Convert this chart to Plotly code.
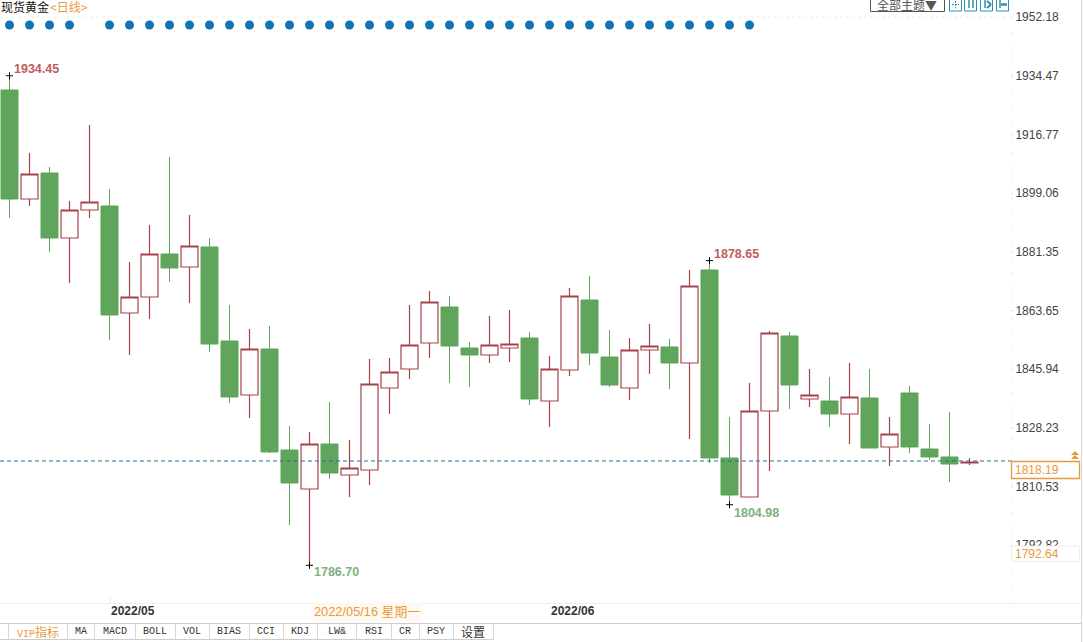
import plotly.graph_objects as go

dates = ["2022-04-25","2022-04-26","2022-04-27","2022-04-28","2022-04-29",
 "2022-05-02","2022-05-03","2022-05-04","2022-05-05","2022-05-06",
 "2022-05-09","2022-05-10","2022-05-11","2022-05-12","2022-05-13",
 "2022-05-16","2022-05-17","2022-05-18","2022-05-19","2022-05-20",
 "2022-05-23","2022-05-24","2022-05-25","2022-05-26","2022-05-27",
 "2022-05-30","2022-05-31","2022-06-01","2022-06-02","2022-06-03",
 "2022-06-06","2022-06-07","2022-06-08","2022-06-09","2022-06-10",
 "2022-06-13","2022-06-14","2022-06-15","2022-06-16","2022-06-17",
 "2022-06-20","2022-06-21","2022-06-22","2022-06-23","2022-06-24",
 "2022-06-27","2022-06-28","2022-06-29","2022-06-30"]
opens = [1930.15,1897.25,1905.10,1885.48,1893.93,1895.14,1862.85,1867.68,1880.65,1876.73,
 1882.77,1854.40,1838.10,1851.98,1821.50,1809.73,1823.31,1813.95,1815.46,1840.21,
 1845.95,1853.79,1864.66,1852.28,1850.17,1852.28,1855.30,1836.29,1845.64,1866.77,
 1849.57,1840.21,1851.68,1852.59,1847.76,1875.82,1819.09,1807.31,1833.27,1855.91,
 1836.89,1836.29,1832.36,1837.19,1822.41,1838.70,1821.80,1819.39,1817.58]
highs = [1934.45,1911.13,1906.91,1896.65,1919.58,1900.27,1878.24,1889.40,1909.93,1892.42,
 1885.48,1865.26,1858.02,1858.92,1828.74,1826.93,1835.99,1824.52,1848.96,1849.27,
 1865.26,1869.49,1867.98,1854.09,1861.94,1863.75,1857.11,1849.87,1870.39,1874.01,
 1857.72,1855.30,1859.53,1855.00,1875.82,1878.65,1831.46,1841.72,1857.41,1857.11,
 1845.95,1843.53,1847.76,1845.95,1831.46,1840.82,1829.35,1832.97,1819.09]
lows = [1891.52,1895.14,1881.26,1871.90,1891.52,1854.70,1850.17,1861.04,1872.20,1865.86,
 1851.08,1835.68,1831.16,1820.59,1798.86,1786.70,1812.75,1807.31,1810.94,1832.36,
 1842.93,1849.27,1841.72,1840.51,1847.76,1848.06,1835.08,1828.44,1843.83,1847.15,
 1840.51,1836.59,1844.44,1839.91,1824.82,1817.58,1804.98,1807.31,1815.16,1833.87,
 1834.48,1828.44,1823.31,1822.10,1816.67,1820.59,1818.48,1811.84,1816.97]
closes = [1897.25,1904.80,1885.48,1893.93,1896.35,1862.24,1867.68,1880.65,1876.43,1883.07,
 1853.49,1837.50,1851.98,1820.90,1811.54,1823.31,1814.56,1816.07,1841.42,1845.04,
 1853.19,1866.17,1852.89,1850.17,1853.19,1853.49,1836.89,1845.95,1867.98,1850.77,
 1841.12,1851.68,1852.89,1847.76,1871.00,1819.09,1807.92,1833.27,1856.81,1841.12,
 1838.10,1832.36,1837.50,1822.10,1826.33,1822.41,1819.39,1817.27,1817.88]

y_ticks = [1952.18,1934.47,1916.77,1899.06,1881.35,1863.65,1845.94,1828.23,1810.53,1792.82]
y_tick_labels = ["1952.18","1934.47","1916.77","1899.06","1881.35","1863.65","1845.94","1828.23","1810.53","1792.82"]

signal_dates = dates[:4] + dates[5:38]
signal_level = [1949.76] * len(signal_dates)

extreme_dates = ["2022-04-25","2022-06-13","2022-05-16","2022-06-14"]
extreme_values = [1934.45,1878.65,1786.70,1804.98]
extreme_labels = ["1934.45","1878.65","1786.70","1804.98"]

last_price = 1818.19
cursor_price = "1792.64"
month_ticks = ["2022-05-02","2022-06-01"]
month_labels = ["2022/05","2022/06"]
cursor_date = "2022-05-16"
cursor_label = "2022/05/16 星期一"
tabs = ["VIP指标","MA","MACD","BOLL","VOL","BIAS","CCI","KDJ","LW&","RSI","CR","PSY","设置"]

W, H = 1083, 642
PLOT_R, PLOT_B = 1010, 603
RED, GREEN = "#a5434a", "#5fa55c"
ORANGE = "#e79a3c"
LAB_RED, LAB_GREEN = "#c25c5c", "#7fb07f"
X = lambda p: p / W
Y = lambda p: 1 - p / H

fig = go.Figure()
fig.add_trace(go.Scatter(x=signal_dates, y=signal_level, mode="markers",
    marker=dict(color="#1272b8", size=9), hoverinfo="skip", showlegend=False))
fig.add_trace(go.Candlestick(x=dates, open=opens, high=highs, low=lows, close=closes,
    whiskerwidth=0, showlegend=False, hoverinfo="skip",
    increasing=dict(line=dict(color=RED, width=1.2), fillcolor="white"),
    decreasing=dict(line=dict(color=GREEN, width=1), fillcolor=GREEN)))
fig.add_trace(go.Scatter(x=extreme_dates, y=extreme_values, mode="markers",
    marker=dict(symbol="cross-thin", size=5, line=dict(color="black", width=1)),
    hoverinfo="skip", showlegend=False))

ann = []
def text(x, y, t, color="#333", size=12, font="Liberation Sans", anchor="left", **kw):
    ann.append(dict(x=X(x), y=Y(y), xref="paper", yref="paper", text=t, showarrow=False,
        xanchor=anchor, yanchor="middle", font=dict(color=color, size=size, family=font),
        borderpad=0, **kw))

cjk = "Noto Sans CJK SC"
# extreme labels
for d, v, lab, col, dy in zip(extreme_dates, extreme_values, extreme_labels,
        [LAB_RED, LAB_RED, LAB_GREEN, LAB_GREEN], [7, 7, -7, -8]):
    ann.append(dict(x=d, y=v, xref="x", yref="y", text=f"<b>{lab}</b>", showarrow=False,
        xanchor="left", yanchor="middle", xshift=2, yshift=dy,
        font=dict(color=col, size=12.5, family="Liberation Sans")))
# title
text(0, 6, "现货黄金", color="#111", size=12, font=cjk)
text(49, 6, "&lt;日线&gt;", color=ORANGE, size=12, font=cjk)
# theme button
text(907, 5, "全部主题▼", color="#555", size=12, font=cjk, anchor="center")
# month labels
for d, lab in zip(month_ticks, month_labels):
    ann.append(dict(x=d, y=Y(611), xref="x", yref="paper", text=f"<b>{lab}</b>", showarrow=False,
        xanchor="left", yanchor="middle", xshift=-1,
        font=dict(color="#333", size=12, family="Liberation Sans")))
ann.append(dict(x=cursor_date, y=Y(611), xref="x", yref="paper", text=cursor_label, showarrow=False,
    xanchor="left", yanchor="middle", xshift=2, bgcolor="#fff9f1", borderpad=1,
    font=dict(color=ORANGE, size=12.8, family="Liberation Sans, " + cjk)))
# price labels
text(1014, 469.5, f"{last_price:.2f}", color=ORANGE)
text(1014, 553.5, cursor_price, color=ORANGE)
# toolbar tabs
edges = [8, 67, 94, 135, 175, 209, 249, 283, 317, 356, 391, 419, 453, 493]
for i, t in enumerate(tabs):
    cx = (edges[i] + edges[i + 1]) / 2
    col = ORANGE if i == 0 else "#333"
    f = cjk if i == 12 else "Liberation Mono"
    if i == 0:
        t = "VIP<span style='font-family:Noto Sans CJK SC;font-size:12px'>指标</span>"
    text(cx, 631, t, color=col, size=12 if i == 12 else 10, font=f, anchor="center")

shapes = []
def line(x0, y0, x1, y1, color, width=1, dash="solid", layer="above"):
    shapes.append(dict(type="line", xref="paper", yref="paper", x0=X(x0), x1=X(x1), y0=Y(y0), y1=Y(y1),
        line=dict(color=color, width=width, dash=dash), layer=layer))
def rect(x0, y0, x1, y1, color, fill=None, width=1):
    shapes.append(dict(type="rect", xref="paper", yref="paper", x0=X(x0), x1=X(x1), y0=Y(y0), y1=Y(y1),
        line=dict(color=color, width=width), fillcolor=fill or "rgba(0,0,0,0)", layer="above"))

shapes.append(dict(type="line", xref="paper", yref="y", x0=0, x1=X(1012), y0=last_price, y1=last_price,
    line=dict(color="#2b6f96", width=1, dash="4px,3px"), layer="above"))
line(0, 17, 1010, 17, "#eeeeee", dash="3px,3px", layer="below")
line(1012, 17, 1012, 603, "#eeeeee", dash="3px,12px", layer="below")
line(0, 603.5, 1081, 603.5, "#eeeeee", layer="below")
line(110.5, 596, 110.5, 603, "#eeeeee", layer="below")
line(1081.5, 0, 1081.5, 642, "#d4d4d4", layer="below")
line(0, 623.5, 1081, 623.5, "#cccccc", layer="below")
line(0, 639.5, 493, 639.5, "#cccccc", layer="below")
for e in edges:
    line(e + .5, 623.5, e + .5, 639.5, "#d8d8d8", layer="below")
# price boxes
rect(1011.5, 461.5, 1079.5, 478.5, ORANGE, fill="white", width=1.3)
rect(1011.5, 546, 1079.5, 561.5, "#eeeeee", fill="white")
# top-right button and icons
rect(870.5, -3, 944.5, 11.5, "#555555")
for x0 in (949.5, 964.5, 980.5, 996.5):
    rect(x0, -2, x0 + 12, 11, "#2e8fb5")
line(952, 4.5, 959, 4.5, "#2e8fb5", dash="2px,1px")
line(955.5, 1, 955.5, 8.5, "#2e8fb5", dash="2px,1px")
line(969, 0, 969, 8, "#2e8fb5", width=1.5)
line(973, 0, 973, 8, "#2e8fb5", width=1.5)
line(985, 0, 985, 8, "#2e8fb5", width=1.5)
line(987, 1, 991, 4.5, "#2e8fb5", width=2)
line(987, 8, 991, 4.5, "#2e8fb5", width=2)
line(1000, 0, 1000, 8, "#2e8fb5", width=1.5)
line(1001, 4.5, 1007, 4.5, "#2e8fb5", width=2.5)
# orange double arrow above the last-price box
for top in (451, 455):
    shapes.append(dict(type="path", xref="paper", yref="paper",
        path=f"M {X(1071)} {Y(top+4)} L {X(1075)} {Y(top)} L {X(1079)} {Y(top+4)} Z",
        fillcolor=ORANGE, line=dict(color=ORANGE, width=0), layer="above"))

fig.update_layout(
    width=W, height=H, margin=dict(l=0, r=0, t=0, b=0), autosize=False,
    paper_bgcolor="white", plot_bgcolor="white", boxgap=0.15, boxgroupgap=0,
    annotations=ann, shapes=shapes, showlegend=False,
    xaxis=dict(domain=[0, X(PLOT_R)], type="category", categoryorder="array", categoryarray=dates,
        range=[-0.475, (PLOT_R - 9.5) / 20], rangeslider=dict(visible=False),
        showgrid=False, zeroline=False, showline=False, showticklabels=False, ticks=""),
    yaxis=dict(domain=[1 - PLOT_B / H, 1], side="right", anchor="x",
        range=[1957.31 - 0.3018 * PLOT_B, 1957.31], tickmode="array", tickvals=y_ticks,
        ticktext=y_tick_labels, showgrid=False, zeroline=False, showline=False,
        ticks="outside", ticklen=2, tickcolor="#dddddd",
        tickfont=dict(family="Liberation Sans", size=12, color="#444444")),
)
fig.write_html("out.html", config=dict(displayModeBar=False),
    post_script="document.body.style.margin='0';document.body.style.overflow='hidden';")
